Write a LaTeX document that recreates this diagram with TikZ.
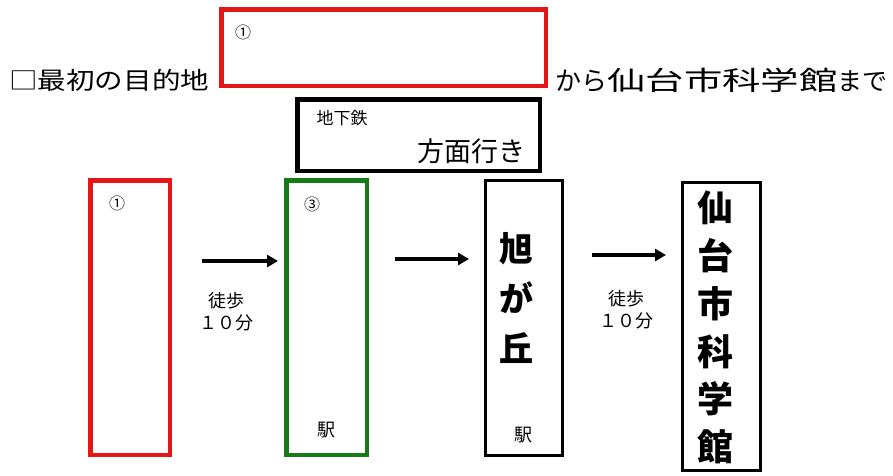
\documentclass[tikz,border=0pt]{standalone}
\usepackage{fontspec}
\setmainfont{Noto Sans CJK JP}
\usetikzlibrary{arrows.meta}
\definecolor{bred}{RGB}{228,22,22}
\definecolor{bgreen}{RGB}{22,122,22}
\tikzset{
  box/.style={draw, inner sep=0pt, fill=white},
  thick box/.style={box, line width=4.5pt},
  thin box/.style={box, line width=2.6pt},
  arr/.style={line width=3.8pt, -{Triangle[length=11pt,width=12pt]}},
  lbl/.style={inner sep=0pt, font=\fontsize{16}{16}\selectfont},
  small/.style={inner sep=0pt, font=\fontsize{18}{22}\selectfont, align=center},
  big/.style={inner sep=0pt, align=center, text width=50pt},
}
\begin{document}
\begin{tikzpicture}[x=1pt,y=-1pt]
\useasboundingbox (0,0) rectangle (893,475);
% top line
\node[inner sep=0pt, anchor=west] (t1) at (9,80) {\scalebox{1.19}[1]{\fontsize{24}{24}\selectfont □最初の目的地}};
\node[thick box, draw=bred, minimum width=324.5pt, minimum height=76.5pt] (dest) at (383.5,47.5) {};
\node[lbl] (destn) at (243,32) {①};
\node[inner sep=0pt, anchor=west] (t2) at (555,80) {{\fontsize{26}{26}\selectfont から}\scalebox{1.45}[1]{\fontsize{26.5}{26}\selectfont 仙台市科学館}{\fontsize{25}{25}\selectfont まで}};
% subway box
\node[thick box, draw=black, minimum width=242.5pt, minimum height=71.5pt] (sub) at (418.5,135) {};
\node[inner sep=0pt, font=\fontsize{17}{17}\selectfont] (subl) at (342,118) {地下鉄};
\node[inner sep=0pt, font=\fontsize{27}{27}\selectfont] (dir) at (471,151) {方面行き};
% boxes
\node[thick box, draw=bred, minimum width=79.5pt, minimum height=274.5pt] (b1) at (130,317.5) {};
\node[lbl] (b1n) at (117,203) {①};
\node[thick box, draw=bgreen, minimum width=80.5pt, minimum height=274.5pt] (b2) at (326.5,317.5) {};
\node[lbl] (b2n) at (312,204) {③};
\node[small] (b2s) at (326,430) {駅};
\node[thin box, minimum width=77.4pt, minimum height=275.4pt] (b3) at (524,318) {};
\node[big, font=\fontsize{34}{50}\selectfont\bfseries] (b3t) at (516,298) {旭\\が\\丘};
\node[small] (b3s) at (523,435) {駅};
\node[thin box, line width=3pt, minimum width=78pt, minimum height=288pt] (b4) at (721.5,326) {};
\node[big, font=\fontsize{36}{47.8}\selectfont\bfseries] (b4t) at (715,327.5) {仙\\台\\市\\科\\学\\館};
% arrows
\coordinate (a1s) at (202,261); \coordinate (a1e) at (278,261);
\coordinate (a2s) at (395,259); \coordinate (a2e) at (469,259);
\coordinate (a3s) at (592,255); \coordinate (a3e) at (666,255);
\draw[arr] (a1s) -- (a1e);
\draw[arr] (a2s) -- (a2e);
\draw[arr] (a3s) -- (a3e);
\node[small] (w1) at (226,312) {徒歩\\１０分};
\node[small] (w2) at (626,310) {徒歩\\１０分};
\end{tikzpicture}
\end{document}
